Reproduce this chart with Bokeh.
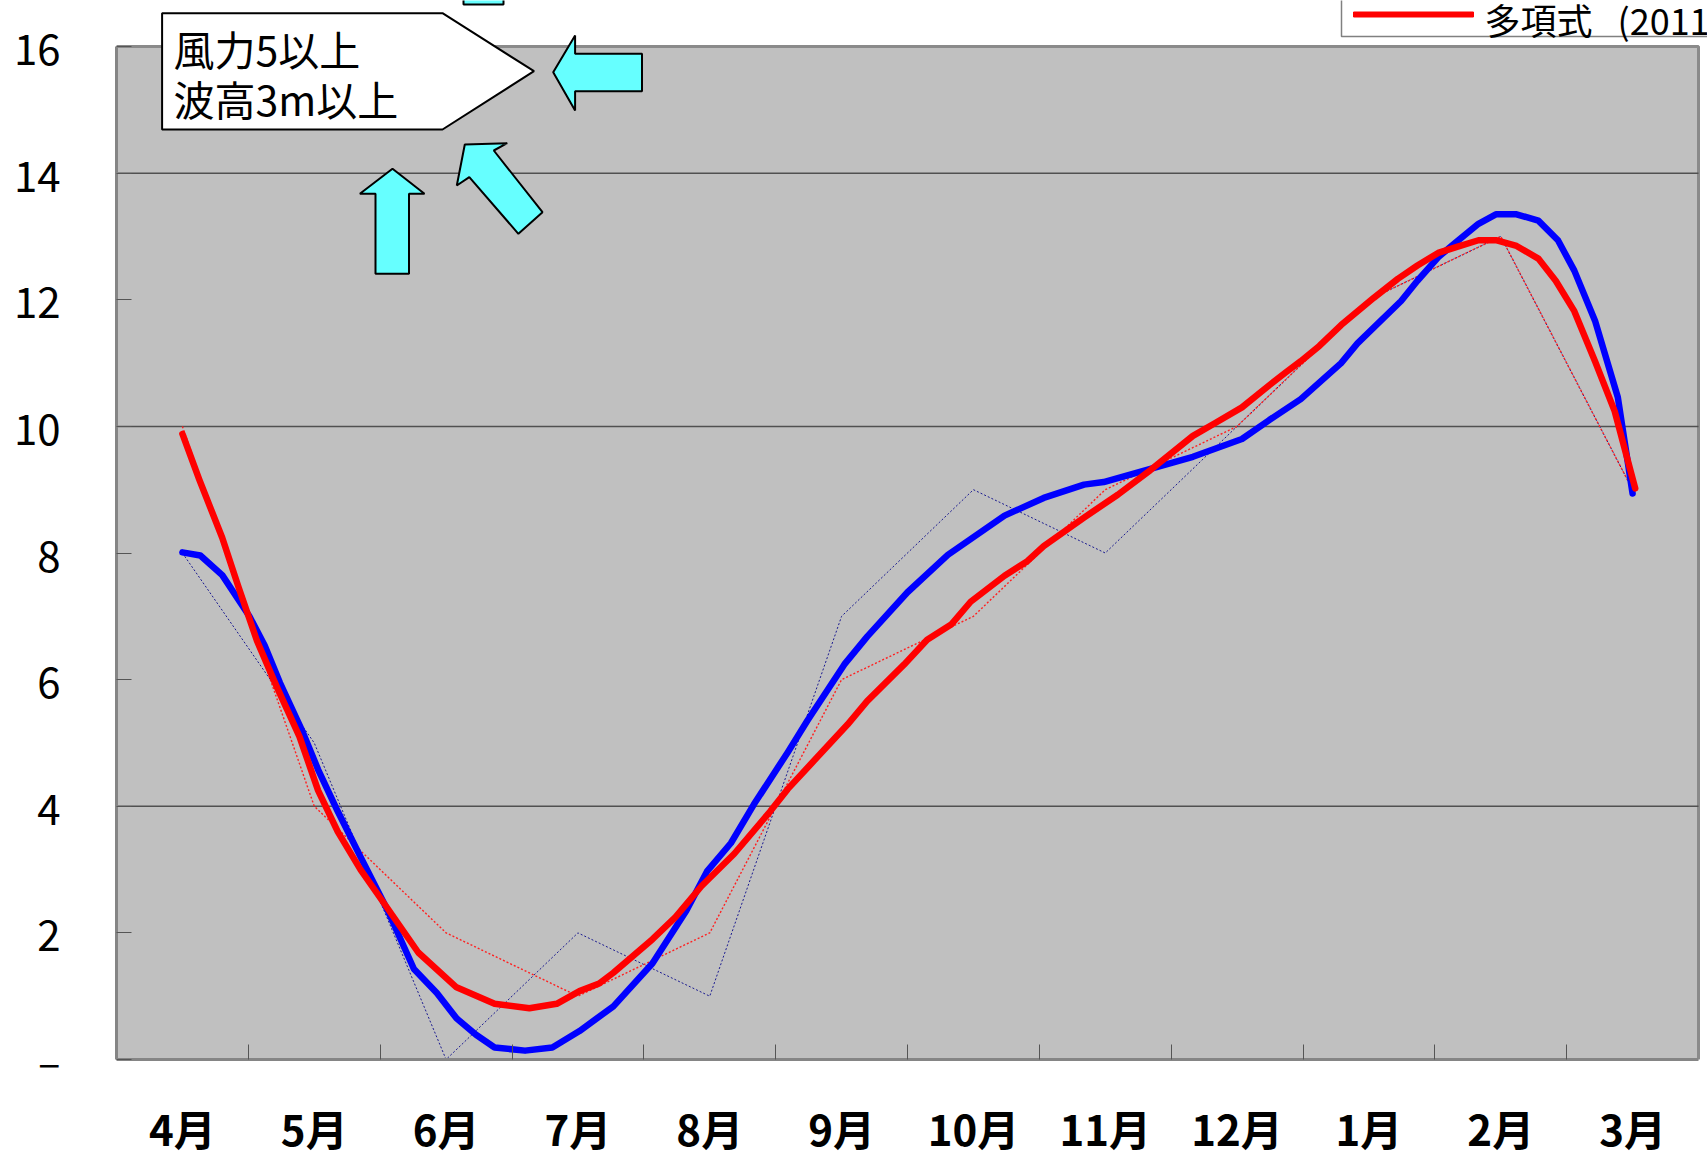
from bokeh.plotting import figure
from bokeh.models import Range1d, FixedTicker, PolyAnnotation, Label
from bokeh.embed import file_html
from bokeh.resources import INLINE

# ---------------- data ----------------
months = ["4月", "5月", "6月", "7月", "8月", "9月", "10月", "11月", "12月", "1月", "2月", "3月"]
month_pos = list(range(12))

# monthly raw values (dotted lines)
blue_monthly = [8, 5, 0, 2, 1, 7, 9, 8, 10, 12, 13, 9]
red_monthly = [10, 4, 2, 1, 2, 6, 7, 9, 10, 12, 13, 9]

# polynomial trend curves, x in month units (0 = 4月)
blue_x = [0.0, 0.136, 0.302, 0.508, 0.624, 0.740, 0.913, 1.029, 1.178, 1.351, 1.558, 1.756,
          1.930, 2.079, 2.227, 2.368, 2.599, 2.806, 3.012, 3.269, 3.566, 3.822, 3.979, 4.161,
          4.335, 4.591, 4.740, 5.021, 5.194, 5.500, 5.806, 6.236, 6.533, 6.839, 6.988, 7.343,
          7.665, 8.037, 8.244, 8.483, 8.789, 8.913, 9.244, 9.368, 9.525, 9.649, 9.831, 9.963,
          10.120, 10.285, 10.434, 10.558, 10.715, 10.888, 11.0]
blue_y = [8.01, 7.96, 7.65, 7.00, 6.54, 5.95, 5.17, 4.58, 3.92, 3.20, 2.35, 1.43,
          1.05, 0.65, 0.39, 0.19, 0.14, 0.19, 0.45, 0.84, 1.52, 2.35, 2.97, 3.42,
          4.03, 4.85, 5.35, 6.24, 6.68, 7.38, 7.97, 8.59, 8.87, 9.08, 9.12, 9.33,
          9.52, 9.80, 10.10, 10.43, 11.00, 11.31, 11.98, 12.30, 12.67, 12.89, 13.20, 13.35,
          13.35, 13.25, 12.94, 12.46, 11.67, 10.46, 8.94]

red_x = [0.0, 0.128, 0.302, 0.426, 0.566, 0.715, 0.888, 1.029, 1.178, 1.351, 1.525, 1.789,
         2.079, 2.368, 2.632, 2.839, 3.012, 3.161, 3.269, 3.566, 3.740, 3.938, 4.186, 4.459,
         4.591, 4.764, 5.045, 5.194, 5.475, 5.649, 5.831, 5.979, 6.236, 6.409, 6.533, 6.839,
         7.095, 7.343, 7.665, 7.831, 8.037, 8.202, 8.368, 8.483, 8.624, 8.789, 9.037, 9.219,
         9.368, 9.525, 9.674, 9.831, 9.963, 10.120, 10.285, 10.417, 10.558, 10.715, 10.864, 11.02]
red_y = [9.88, 9.16, 8.24, 7.46, 6.61, 5.89, 5.10, 4.25, 3.60, 3.00, 2.48, 1.69,
         1.14, 0.88, 0.81, 0.88, 1.08, 1.20, 1.37, 1.90, 2.25, 2.74, 3.25, 3.92,
         4.27, 4.66, 5.29, 5.66, 6.24, 6.63, 6.87, 7.23, 7.64, 7.87, 8.11, 8.56,
         8.92, 9.31, 9.85, 10.05, 10.30, 10.58, 10.85, 11.03, 11.27, 11.60, 12.03, 12.33,
         12.54, 12.74, 12.84, 12.94, 12.94, 12.85, 12.65, 12.30, 11.82, 11.03, 10.24, 9.02]

y_ticks = [0, 2, 4, 6, 8, 10, 12, 14, 16]
grid_ticks = [4, 10, 14]
note_lines = ["風力5以上", "波高3m以上"]
legend_name = "多項式"
legend_year = "(2011年)"

# ---------------- layout constants (pixels) ----------------
W, H = 1707, 1160
PLOT_L, PLOT_R, PLOT_T, PLOT_B = 116, 1698, 46, 1059
X0, X1 = -0.5, 11.5
Y0, Y1 = 0, 16
px_x = (PLOT_R - PLOT_L) / (X1 - X0)
px_y = (PLOT_B - PLOT_T) / (Y1 - Y0)
x_end = X1 + (W - PLOT_R) / px_x
y_end = Y1 + PLOT_T / px_y

FONT = "Noto Sans CJK JP"
p = figure(width=W, height=H, output_backend="svg", toolbar_location=None,
           x_range=Range1d(X0, x_end), y_range=Range1d(Y0, y_end),
           min_border_left=PLOT_L, min_border_top=0, min_border_right=0,
           min_border_bottom=H - PLOT_B)
p.background_fill_color = "white"
p.border_fill_color = "white"
p.outline_line_color = None

# axes
xa = p.xaxis[0]
xa.bounds = (X0, X1)
xa.ticker = FixedTicker(ticks=month_pos, minor_ticks=[i + 0.5 for i in range(11)])
xa.major_label_overrides = {i: m for i, m in zip(month_pos, months)}
xa.major_tick_line_color = None
xa.minor_tick_in = 15
xa.minor_tick_out = 0
xa.minor_tick_line_color = "#555555"
xa.axis_line_color = "#858585"
xa.axis_line_width = 3
xa.major_label_text_font = FONT
xa.major_label_text_font_style = "bold"
xa.major_label_text_font_size = "42px"
xa.major_label_text_color = "black"
xa.major_label_standoff = 31

ya = p.yaxis[0]
ya.bounds = (Y0, Y1)
ya.ticker = FixedTicker(ticks=y_ticks)
ya.major_label_overrides = {0: "–"}
ya.major_tick_in = 15
ya.major_tick_out = 0
ya.major_tick_line_color = "#555555"
ya.minor_tick_line_color = None
ya.axis_line_color = "#858585"
ya.axis_line_width = 3
ya.major_label_text_font = FONT
ya.major_label_text_font_size = "42px"
ya.major_label_text_color = "black"
ya.major_label_standoff = 56

p.xgrid.grid_line_color = None
p.ygrid.grid_line_color = None

# plot area (grey) and its gridlines
p.quad(left=[X0], right=[X1], bottom=[Y0], top=[Y1], fill_color="#c0c0c0",
       line_color="#8a8a8a", line_width=3)
p.segment(x0=[X0] * len(grid_ticks), x1=[X1] * len(grid_ticks), y0=grid_ticks, y1=grid_ticks,
          line_color="#505050", line_width=1.5)

# raw monthly dotted lines
p.line(month_pos, blue_monthly, line_color="#1a1a90", line_width=1, line_dash="2 2")
p.line(month_pos, red_monthly, line_color="#ff2020", line_width=1.4, line_dash="2 2")

# trend curves
p.line(blue_x, blue_y, line_color="#0000ff", line_width=6.5, line_join="round", line_cap="round")
p.line(red_x, red_y, line_color="#ff0000", line_width=6.5, line_join="round", line_cap="round")

# ---------------- annotations (canvas units) ----------------
CYAN = "#66ffff"
def poly(xs, ys, fill, line="black", lw=2):
    p.add_layout(PolyAnnotation(xs=xs, ys=ys, xs_units="canvas", ys_units="canvas",
                                fill_color=fill, fill_alpha=1.0, line_color=line,
                                line_width=lw, line_alpha=1.0))

# callout box
poly([161.6, 442, 533.5, 442, 161.6], [12.7, 12.7, 70.7, 129, 129], "white")
for i, t in enumerate(note_lines):
    p.add_layout(Label(x=173, y=47 + 50 * i, x_units="canvas", y_units="canvas", text=t,
                       text_font=FONT, text_font_size="41px", text_color="black",
                       text_baseline="middle", text_align="left"))

# left-pointing arrow
poly([552.7, 574.6, 574.6, 641.5, 641.5, 574.6, 574.6],
     [71.7, 35, 53.3, 53.3, 90.7, 90.7, 110], CYAN)
# up arrow
poly([392, 424, 408.5, 408.5, 375, 375, 359.4],
     [168.3, 193.3, 193.3, 273.3, 273.3, 193.3, 193.3], CYAN)
# diagonal arrow
poly([464.3, 506.7, 493.3, 542, 517.9, 468.8, 456.3],
     [144, 142.7, 150, 211.7, 233.3, 176.7, 185], CYAN)
# bottom of an arrow cut off at the top edge
poly([463, 503, 503, 463], [-20, -20, 4, 4], CYAN)

# legend fragment (top right)
poly([1341, 1730, 1730, 1341], [-30, -30, 36, 36], "white", line="#808080", lw=1.5)
poly([1353, 1473, 1473, 1353], [11.5, 11.5, 16.5, 16.5], "#ff0000", line="#ff0000", lw=1)
p.add_layout(Label(x=1484, y=18, x_units="canvas", y_units="canvas", text=legend_name,
                   text_font=FONT, text_font_size="36px", text_color="black",
                   text_baseline="middle", text_align="left"))
p.add_layout(Label(x=1617, y=18, x_units="canvas", y_units="canvas", text=legend_year,
                   text_font=FONT, text_font_size="36px", text_color="black",
                   text_baseline="middle", text_align="left"))

open("out.html", "w").write(file_html(p, INLINE))
